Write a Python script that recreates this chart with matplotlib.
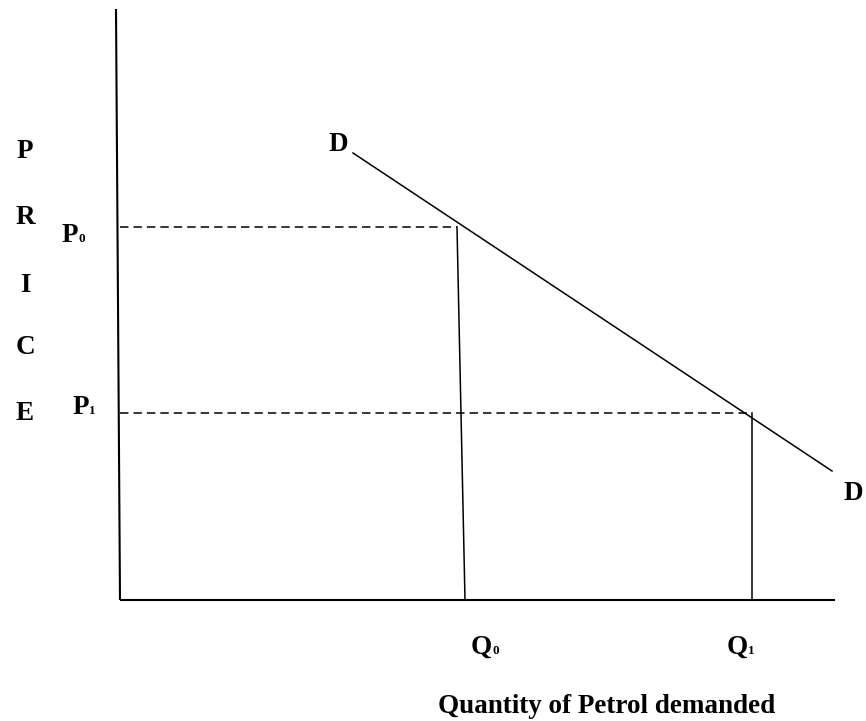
import matplotlib
matplotlib.use('Agg')
import matplotlib.pyplot as plt

# demand diagram values (quantity on x, price on y)
axis_top = (-0.04, 5.91)
axis_right = 7.15
demand_q = [2.33, 7.12]
demand_p = [4.47, 1.29]
P0, P1 = 3.73, 1.87
Q0_top, Q0 = 3.37, 3.45   # drop line to Q0 is drawn slightly slanted
Q1 = 6.32

price_letters = list("PRICE")
price_letter_y = [4.48, 3.82, 3.15, 2.52, 1.87]
xlabel_text = 'Quantity of Petrol demanded'

plt.rcParams['font.family'] = ['Liberation Serif', 'DejaVu Serif']
plt.rcParams['font.weight'] = 'bold'

fig = plt.figure(figsize=(8.66, 7.21), dpi=100)
ax = fig.add_axes([0, 0, 1, 1])
ax.set_xlim(-1.2, 7.46)
ax.set_ylim(-1.21, 6.0)
ax.axis('off')

# axes
ax.plot([axis_top[0], 0], [axis_top[1], 0], color='black', lw=1.5, solid_capstyle='butt')
ax.plot([0, axis_right], [0, 0], color='black', lw=1.5, solid_capstyle='butt')

# demand curve
ax.plot(demand_q, demand_p, color='black', lw=1.1)

# price guides
ax.plot([0, Q0_top], [P0, P0], color='black', lw=1.1, dashes=(5.5, 3.3))
ax.plot([0, Q1], [P1, P1], color='black', lw=1.1, dashes=(5.5, 3.3))
ax.plot([Q0_top, Q0], [P0, 0], color='black', lw=1.1)
ax.plot([Q1, Q1], [P1, 0], color='black', lw=1.1)

fs = 19.5
for letter, y in zip(price_letters, price_letter_y):
    ax.text(-0.95, y, letter, fontsize=fs, ha='center', va='center')


def sub_label(x, y, main, sub):
    ax.text(x, y, main, fontsize=fs, ha='right', va='baseline')
    ax.annotate(sub, (x, y), xytext=(0.3, 0), textcoords='offset points',
                fontsize=9.5, ha='left', va='baseline')


sub_label(-0.42, 3.58, 'P', '0')
sub_label(-0.31, 1.86, 'P', '1')
sub_label(3.72, -0.54, 'Q', '0')
sub_label(6.28, -0.54, 'Q', '1')

ax.text(2.18, 4.56, 'D', fontsize=fs, ha='center', va='center')
ax.text(7.23, 1.07, 'D', fontsize=fs, ha='left', va='center')

ax.text(4.87, -1.13, xlabel_text, fontsize=fs, ha='center', va='baseline')

fig.savefig('out.png', dpi=100)
